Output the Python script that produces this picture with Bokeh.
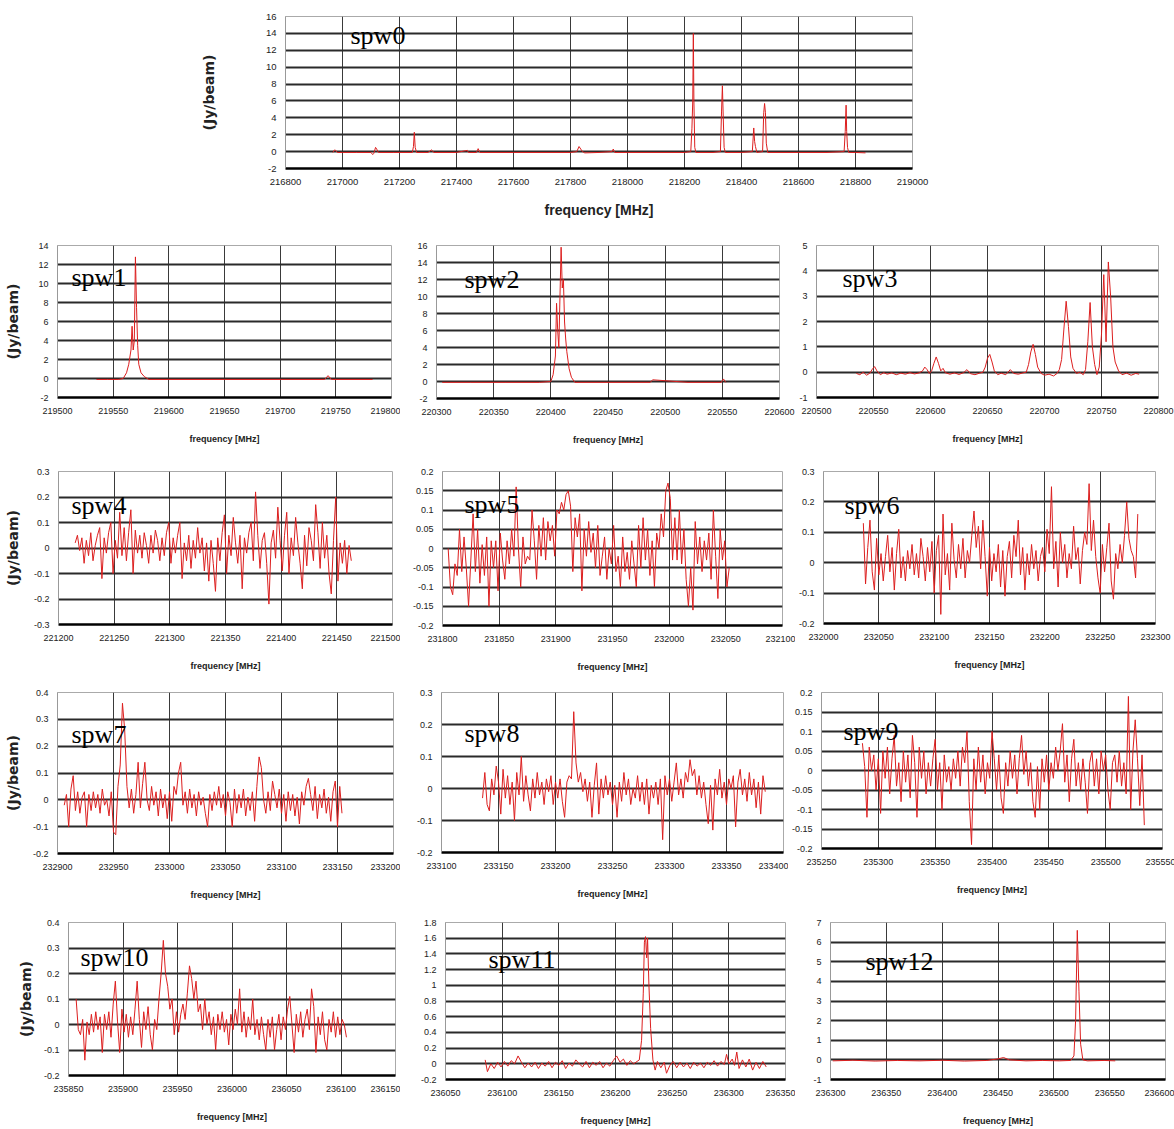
import numpy as np
from bokeh.plotting import figure
from bokeh.layouts import column, row
from bokeh.models import FixedTicker, CustomJSTickFormatter, Label, Range1d
from bokeh.embed import file_html
from bokeh.resources import INLINE

# ---------------- data ----------------
# spw0 : line survey
spw0_freq = [216966, 216972, 216976, 216982, 217000, 217050, 217100, 217106, 217110, 217116,
             217120, 217126, 217180, 217245, 217249, 217252, 217255, 217260, 217300, 217312,
             217316, 217320, 217400, 217438, 217442, 217470, 217476, 217482, 217600, 217700,
             217800, 217822, 217830, 217836, 217842, 217850, 217900, 217946, 217950, 217955,
             218000, 218100, 218200, 218222, 218226, 218229, 218231, 218233, 218236, 218240,
             218300, 218326, 218330, 218333, 218336, 218339, 218343, 218400, 218438, 218443,
             218446, 218449, 218454, 218474, 218478, 218481, 218484, 218487, 218492, 218600,
             218700, 218760, 218764, 218767, 218769, 218772, 218776, 218800, 218835]
spw0_flux = [-0.1, 0.2, 0.15, -0.1, -0.1, -0.1, -0.1, -0.35, -0.2, 0.5,
             0.3, -0.1, -0.1, -0.1, 0.6, 2.3, 0.5, -0.1, -0.1, 0.2,
             0.1, -0.1, -0.1, 0.15, -0.1, -0.1, 0.35, -0.1, -0.1, -0.1,
             -0.1, 0.0, 0.6, 0.3, 0.0, -0.15, -0.1, 0.0, 0.3, -0.1,
             -0.1, -0.1, -0.1, 0.0, 2.7, 6.0, 14.0, 6.0, 0.5, -0.1,
             -0.1, 0.0, 4.8, 7.8, 4.0, 0.5, -0.1, -0.1, 0.0, 2.8,
             1.2, 0.6, -0.1, 0.0, 4.6, 5.7, 4.6, 1.0, -0.1, -0.1,
             -0.1, 0.0, 2.4, 5.5, 2.4, 0.5, -0.1, -0.1, -0.15]

spw1_freq = [219535, 219545, 219555, 219559, 219562, 219564, 219566, 219567, 219568, 219569,
             219570, 219571, 219572, 219573, 219575, 219578, 219582, 219600, 219650, 219700,
             219740, 219743, 219746, 219783]
spw1_flux = [-0.1, -0.1, -0.1, 0.0, 0.6, 1.5, 3.0, 5.5, 3.0, 4.0,
             12.8, 7.5, 3.5, 1.5, 0.6, 0.2, -0.1, -0.1, -0.1, -0.1,
             -0.1, 0.3, -0.1, -0.1]

spw2_freq = [220305, 220330, 220360, 220390, 220400, 220402, 220404, 220405, 220406, 220407,
             220408, 220409, 220410, 220411, 220412, 220413, 220414, 220416, 220418, 220421,
             220450, 220487, 220489, 220520, 220549, 220551, 220553]
spw2_flux = [-0.1, -0.1, -0.1, -0.1, 0.0, 0.8, 3.0, 9.2, 6.0, 4.0,
             10.0, 15.8, 11.0, 12.0, 7.0, 5.0, 3.5, 1.5, 0.5, -0.1,
             -0.1, -0.1, 0.2, -0.1, -0.1, 0.3, -0.1]

spw3_freq = [220535, 220538, 220541, 220544, 220547, 220549, 220551, 220553, 220556, 220559,
             220562, 220566, 220570, 220574, 220578, 220582, 220586, 220590, 220593, 220595,
             220597, 220599, 220601, 220603, 220605, 220607, 220609, 220611, 220613, 220617,
             220621, 220625, 220629, 220632, 220635, 220639, 220643, 220646, 220648, 220650,
             220652, 220654, 220656, 220659, 220662, 220666, 220670, 220673, 220677, 220681,
             220684, 220686, 220688, 220690, 220692, 220694, 220697, 220700, 220704, 220708,
             220711, 220713, 220715, 220717, 220719, 220721, 220723, 220725, 220728, 220731,
             220734, 220736, 220738, 220740, 220742, 220744, 220746, 220748, 220750, 220752,
             220754, 220756, 220758, 220760, 220762, 220765, 220768, 220772, 220776, 220780,
             220783]
spw3_flux = [-0.05, -0.1, 0.0, -0.12, -0.03, 0.12, 0.22, 0.05, -0.1, -0.02,
             -0.08, -0.03, -0.1, -0.04, -0.08, -0.02, -0.07, -0.03, 0.05, 0.2,
             0.1, -0.05, 0.05, 0.35, 0.6, 0.35, 0.05, 0.15, -0.02, -0.08,
             -0.03, -0.09, -0.02, 0.1, -0.06, -0.1, -0.04, 0.0, 0.2, 0.55,
             0.7, 0.4, 0.05, -0.1, -0.04, -0.1, 0.1, -0.05, -0.08, -0.03,
             0.0, 0.3, 0.8, 1.1, 0.7, 0.2, -0.05, -0.12, -0.08, -0.15,
             -0.05, 0.1, 0.5, 1.7, 2.8, 1.8, 0.6, 0.15, -0.05, 0.0,
             -0.1, 0.1, 1.2, 2.75, 1.0, 0.3, -0.1, 0.2, 1.5, 3.85,
             1.2, 4.35, 3.0, 1.0, 0.4, 0.05, -0.1, -0.04, -0.12, -0.05,
             -0.08]

# noisy windows: first channel [MHz], channel step [MHz], flux per channel
spw4_start, spw4_step = 221215, 2
spw4_flux = [0.02, 0.05, -0.01, 0.04, -0.06, 0.03, -0.03, 0.06, -0.05, 0.01,
             0.05, 0.08, -0.12, 0.04, -0.02, 0.06, 0.1, -0.1, 0.03, -0.04,
             0.14, -0.03, 0.08, -0.05, 0.06, 0.15, -0.1, 0.07, -0.02, 0.05,
             -0.04, 0.06, 0.01, -0.06, 0.05, -0.02, 0.07, 0.03, -0.05, 0.04,
             -0.03, 0.06, 0.1, -0.06, 0.04, -0.02, 0.05, 0.1, -0.12, 0.02,
             -0.05, 0.05, -0.08, 0.03, -0.04, 0.08, -0.02, 0.04, -0.09, 0.02,
             -0.13, 0.03, -0.06, -0.17, 0.04, -0.05, 0.06, 0.13, -0.1, 0.05,
             -0.03, 0.12, 0.02, -0.06, 0.05, -0.16, 0.04, -0.02, 0.06, 0.1,
             -0.05, 0.22, 0.05, -0.08, 0.03, 0.06, -0.06, -0.22, 0.02, 0.07,
             -0.04, 0.16, 0.03, -0.09, 0.05, 0.14, -0.1, 0.04, -0.03, 0.12,
             0.02, -0.06, -0.16, 0.05, -0.07, 0.08, 0.03, -0.05, 0.17, 0.06,
             -0.08, 0.1, -0.04, 0.05, -0.1, -0.18, 0.03, 0.2, -0.13, 0.02,
             -0.06, 0.03, -0.1, 0.01, -0.05]

spw5_start, spw5_step = 231805, 2
spw5_flux = [0.0, -0.1, -0.12, -0.04, -0.07, 0.05, -0.06, 0.03, -0.05, -0.15,
             -0.03, 0.09, -0.06, 0.05, -0.09, 0.01, -0.07, 0.03, -0.15, 0.02,
             -0.05, 0.02, -0.11, 0.04, -0.03, -0.08, 0.02, -0.04, 0.05, -0.02,
             0.16, 0.0, -0.1, 0.03, -0.04, -0.02, -0.03, 0.1, 0.02, -0.08,
             0.06, -0.02, 0.08, -0.03, 0.07, 0.02, 0.06, -0.02, 0.1, 0.09,
             0.12, 0.1, 0.14, 0.15, 0.11, -0.06, 0.08, 0.03, 0.09, -0.11,
             0.05, -0.02, 0.07, -0.01, 0.04, -0.05, 0.06, -0.07, -0.02, 0.03,
             -0.08, 0.0, -0.04, 0.06, -0.06, -0.02, -0.1, 0.03, -0.06, -0.01,
             -0.08, 0.02, -0.04, -0.1, 0.06, -0.05, 0.08, -0.03, 0.05, -0.07,
             0.02, -0.1, 0.04, 0.0, 0.09, 0.03, 0.15, 0.17, 0.13, -0.03,
             0.08, -0.03, 0.1, -0.04, 0.05, -0.08, -0.15, -0.05, -0.16, 0.07,
             -0.04, 0.03, -0.06, 0.02, -0.03, 0.04, -0.08, 0.1, -0.02, -0.13,
             0.05, -0.03, 0.02, -0.1, -0.05]

spw6_start, spw6_step = 232036, 2
spw6_flux = [0.13, -0.07, 0.05, 0.14, -0.03, -0.09, 0.08, -0.04, 0.03, -0.06,
             0.02, 0.09, -0.03, 0.05, -0.09, 0.03, 0.11, -0.05, 0.02, -0.06,
             0.04, -0.02, 0.06, -0.04, 0.03, -0.05, 0.08, 0.02, -0.06, 0.05,
             -0.03, 0.07, -0.1, 0.04, 0.09, -0.17, 0.16, -0.04, 0.03, -0.09,
             0.13, 0.01, -0.05, 0.06, -0.02, 0.08, -0.05, 0.04, 0.0, 0.09,
             0.17, 0.05, 0.12, -0.02, 0.14, 0.02, -0.11, 0.05, -0.06, 0.03,
             -0.03, 0.06, -0.08, 0.04, -0.11, 0.02, 0.07, -0.05, 0.09, 0.02,
             0.14, -0.04, 0.05, -0.09, 0.03, -0.04, 0.06, -0.02, 0.04, -0.06,
             0.02, 0.05, -0.03, 0.11, 0.03, 0.25, -0.02, 0.07, -0.08, 0.1,
             0.0, 0.06, -0.05, 0.03, -0.02, 0.12, 0.01, 0.05, -0.07, 0.04,
             0.1, 0.06, 0.26, 0.04, 0.14, 0.02, -0.05, -0.1, 0.06, -0.03,
             0.05, 0.13, -0.06, -0.12, 0.03, -0.02, 0.06, 0.0, 0.09, 0.2,
             0.08, 0.04, 0.02, -0.05, 0.16]

spw7_start, spw7_step = 232906, 2
spw7_flux = [-0.02, 0.02, -0.1, 0.04, 0.09, -0.04, 0.03, -0.05, 0.01, 0.03,
             -0.1, 0.02, -0.04, 0.03, -0.03, 0.02, -0.05, 0.04, -0.02, 0.0,
             -0.06, 0.03, -0.12, -0.13, 0.05, 0.13, 0.36, 0.26, 0.05, -0.03,
             0.04, -0.05, 0.02, 0.14, -0.03, 0.06, 0.14, 0.0, -0.04, 0.05,
             -0.02, 0.03, -0.06, 0.04, -0.03, 0.02, -0.07, 0.03, -0.08, 0.05,
             0.02, 0.1, 0.14, -0.02, 0.03, -0.05, 0.04, -0.03, 0.02, -0.06,
             0.03, -0.02, 0.01, -0.05, -0.1, 0.02, -0.04, 0.03, -0.02, 0.05,
             -0.03, 0.02, -0.06, 0.03, -0.01, -0.1, 0.04, -0.05, 0.02, -0.03,
             0.04, -0.06, 0.01, -0.04, 0.03, -0.08, 0.05, 0.16, 0.12, 0.0,
             -0.05, 0.03, -0.04, 0.07, 0.02, -0.03, 0.04, -0.05, 0.02, -0.08,
             0.03, -0.04, 0.02, -0.06, 0.01, -0.09, 0.03, -0.02, 0.05, 0.08,
             0.02, -0.04, 0.05, -0.07, 0.02, -0.03, 0.04, -0.05, 0.01, -0.08,
             0.03, 0.07, -0.1, 0.05, -0.05]

spw8_start, spw8_step = 233136, 2
spw8_flux = [-0.03, 0.05, -0.05, -0.07, 0.03, -0.02, 0.07, 0.02, -0.08, 0.06,
             -0.03, 0.04, -0.05, 0.02, -0.1, 0.05, -0.02, 0.1, -0.04, 0.04,
             -0.02, -0.07, 0.03, -0.03, 0.05, -0.02, 0.02, -0.05, 0.03, -0.01,
             0.04, -0.05, 0.02, -0.03, 0.03, -0.04, -0.09, 0.02, 0.04, 0.03,
             0.24, 0.08, 0.02, 0.05, -0.01, 0.03, -0.04, 0.02, -0.09, 0.01,
             0.08, -0.08, 0.03, -0.03, 0.04, -0.02, 0.02, -0.05, 0.01, -0.09,
             0.02, -0.04, 0.05, -0.02, 0.03, -0.05, 0.0, -0.03, 0.04, -0.04,
             0.02, -0.05, 0.03, -0.08, 0.01, -0.03, 0.02, -0.05, 0.03, -0.16,
             0.04, -0.02, 0.03, -0.04, 0.02, 0.08, -0.02, 0.03, -0.03, 0.05,
             0.02, 0.09, 0.04, 0.06, -0.02, 0.04, -0.03, 0.02, -0.05, -0.11,
             0.01, -0.13, 0.03, -0.02, 0.06, -0.03, 0.02, -0.05, 0.03, 0.0,
             0.04, -0.12, 0.02, 0.06, -0.02, 0.03, -0.04, 0.05, -0.02, 0.03,
             -0.06, 0.02, -0.08, 0.04, -0.01]

spw9_start, spw9_step = 235286, 2
spw9_flux = [0.07, 0.01, -0.12, 0.06, 0.0, 0.04, -0.05, 0.03, -0.11, 0.05,
             -0.02, 0.06, -0.06, 0.03, 0.09, -0.04, 0.02, -0.08, 0.05, -0.03,
             0.04, -0.07, 0.09, 0.02, -0.12, 0.06, -0.02, 0.05, -0.06, 0.02,
             -0.04, 0.03, 0.08, -0.05, 0.02, -0.1, 0.04, -0.03, 0.01, -0.05,
             0.03, -0.02, 0.05, -0.04, 0.06, 0.02, 0.1, -0.08, -0.19, 0.03,
             -0.05, 0.06, -0.03, 0.04, -0.06, 0.02, -0.02, 0.1, 0.03, -0.05,
             0.04, -0.07, -0.11, 0.02, -0.04, 0.05, -0.02, 0.04, -0.06, 0.03,
             0.09, -0.01, 0.05, -0.04, 0.02, -0.08, -0.12, 0.01, -0.1, 0.03,
             -0.03, 0.04, -0.05, 0.02, -0.02, 0.06, 0.0, 0.05, 0.12, -0.03,
             0.04, -0.08, 0.03, 0.08, -0.04, 0.02, -0.05, 0.03, -0.03, -0.11,
             0.02, 0.05, -0.04, 0.03, -0.06, 0.05, 0.0, 0.04, -0.05, -0.1,
             0.02, 0.04, -0.03, 0.05, -0.04, 0.02, -0.06, 0.19, -0.1, 0.05,
             0.13, 0.03, -0.09, 0.04, -0.14]

spw10_start, spw10_step = 235857, 2
spw10_flux = [0.1, -0.02, -0.04, 0.02, -0.14, 0.01, -0.04, 0.04, -0.03, 0.05,
              -0.02, 0.03, -0.11, 0.04, -0.02, 0.05, -0.05, 0.08, 0.17, 0.01,
              -0.11, 0.06, -0.03, 0.04, -0.05, 0.03, -0.04, 0.06, 0.17, 0.02,
              -0.09, 0.05, -0.02, 0.07, -0.04, -0.1, 0.02, -0.02, 0.1, 0.2,
              0.33, 0.2, 0.15, 0.06, 0.1, -0.04, 0.05, -0.03, 0.04, 0.08,
              0.02, 0.12, 0.23, 0.18, 0.1, 0.17, 0.05, 0.08, -0.02, 0.1,
              0.0, 0.05, -0.04, 0.03, -0.1, 0.04, -0.02, 0.05, -0.03, 0.02,
              -0.08, 0.04, -0.02, 0.06, 0.0, 0.14, -0.03, 0.05, -0.05, 0.03,
              -0.02, 0.1, -0.04, 0.02, -0.06, 0.03, -0.04, -0.1, 0.02, -0.05,
              0.03, -0.1, -0.02, 0.04, -0.06, 0.03, -0.02, 0.06, 0.11, 0.0,
              -0.11, 0.04, -0.03, 0.05, -0.05, 0.02, 0.06, -0.02, 0.14, 0.07,
              -0.11, 0.03, -0.04, 0.05, -0.06, -0.1, 0.02, -0.03, 0.05, -0.05,
              0.03, -0.04, 0.02, 0.0, -0.05]

spw11_freq = [236085, 236087, 236090, 236093, 236096, 236099, 236102, 236105, 236108, 236111,
              236114, 236117, 236120, 236123, 236126, 236129, 236132, 236135, 236138, 236141,
              236144, 236147, 236150, 236153, 236156, 236159, 236162, 236165, 236168, 236171,
              236174, 236177, 236180, 236183, 236186, 236189, 236192, 236195, 236198, 236201,
              236204, 236207, 236210, 236213, 236216, 236219, 236221, 236223, 236224.5, 236225.5,
              236226.5, 236227.5, 236228.3, 236229.5, 236231, 236233, 236235, 236237, 236240, 236243,
              236245, 236248, 236251, 236254, 236257, 236260, 236263, 236266, 236269, 236272,
              236275, 236278, 236281, 236284, 236287, 236290, 236293, 236296, 236298, 236300,
              236303, 236305, 236307, 236309, 236312, 236315, 236318, 236321, 236324, 236327,
              236330, 236333]
spw11_flux = [0.05, -0.1, 0.0, -0.06, 0.02, -0.04, 0.03, -0.03, 0.04, 0.0,
              0.1, 0.02, -0.05, 0.01, -0.04, 0.02, -0.06, 0.01, -0.03, 0.03,
              -0.05, 0.02, -0.02, 0.04, -0.06, 0.01, -0.03, 0.05, 0.0, -0.04,
              0.03, -0.05, 0.02, -0.02, 0.03, -0.05, 0.01, -0.03, 0.04, 0.1,
              0.02, 0.06, -0.02, 0.04, 0.0, 0.03, 0.05, 0.3, 0.9, 1.55,
              1.62, 1.35, 1.6, 1.0, 0.45, 0.05, -0.08, 0.03, -0.05, 0.02,
              -0.12, -0.02, 0.03, -0.05, 0.02, -0.04, 0.01, -0.06, 0.02, -0.03,
              0.01, -0.05, 0.02, -0.02, 0.04, -0.03, 0.03, -0.01, 0.12, 0.0,
              0.06, -0.02, 0.15, -0.06, 0.05, -0.04, 0.06, -0.08, 0.02, -0.06,
              0.03, -0.04]

spw12_freq = [236302, 236320, 236340, 236360, 236380, 236400, 236420, 236440, 236450, 236455,
              236460, 236475, 236490, 236505, 236515, 236518, 236519.5, 236521, 236522.5, 236524,
              236526, 236530, 236545, 236555]
spw12_flux = [-0.05, -0.02, -0.06, -0.03, -0.05, -0.02, -0.06, -0.03, 0.05, 0.12,
              0.0, -0.05, -0.03, -0.05, -0.03, 0.2, 2.0, 6.6, 3.5, 0.8,
              0.0, -0.05, -0.03, -0.05]

# axis ranges / tick steps per window
names = ["spw0", "spw1", "spw2", "spw3", "spw4", "spw5", "spw6",
         "spw7", "spw8", "spw9", "spw10", "spw11", "spw12"]
x_ranges = [(216800, 219000, 200), (219500, 219800, 50), (220300, 220600, 50),
            (220500, 220800, 50), (221200, 221500, 50), (231800, 232100, 50),
            (232000, 232300, 50), (232900, 233200, 50), (233100, 233400, 50),
            (235250, 235550, 50), (235850, 236150, 50), (236050, 236350, 50),
            (236300, 236600, 50)]
y_ranges = [(-2, 16, 2), (-2, 14, 2), (-2, 16, 2), (-1, 5, 1), (-0.3, 0.3, 0.1),
            (-0.2, 0.2, 0.05), (-0.2, 0.3, 0.1), (-0.2, 0.4, 0.1), (-0.2, 0.3, 0.1),
            (-0.2, 0.2, 0.05), (-0.2, 0.4, 0.1), (-0.2, 1.8, 0.2), (-1, 7, 1)]


def channels(start, step, vals):
    return list(start + step * np.arange(len(vals)))


series = [
    (spw0_freq, spw0_flux), (spw1_freq, spw1_flux), (spw2_freq, spw2_flux),
    (spw3_freq, spw3_flux),
    (channels(spw4_start, spw4_step, spw4_flux), spw4_flux),
    (channels(spw5_start, spw5_step, spw5_flux), spw5_flux),
    (channels(spw6_start, spw6_step, spw6_flux), spw6_flux),
    (channels(spw7_start, spw7_step, spw7_flux), spw7_flux),
    (channels(spw8_start, spw8_step, spw8_flux), spw8_flux),
    (channels(spw9_start, spw9_step, spw9_flux), spw9_flux),
    (channels(spw10_start, spw10_step, spw10_flux), spw10_flux),
    (spw11_freq, spw11_flux), (spw12_freq, spw12_flux),
]

# ---------------- layout / style ----------------
# (left, frame_w, right, top, frame_h, bottom)
geom = [
    (285, 627, 262, 16, 152, 56),
    (57, 334, 9, 21, 152, 51), (36, 343, 16, 19, 153, 52), (21, 342, 16, 20, 152, 52),
    (58, 334, 8, 22, 153, 57), (42, 340, 13, 23, 154, 55), (24, 332, 23, 22, 152, 58),
    (57, 336, 7, 9, 161, 55), (41, 342, 5, 10, 160, 55), (32, 341, 13, 12, 156, 57),
    (68, 327, 5, 17, 153, 54), (45, 340, 10, 15, 157, 52), (35, 335, 9, 13, 157, 54),
]
label_pos = [(65, 19), (14, 32), (28, 34), (26, 33), (13, 34), (22, 33), (21, 34),
             (14, 42), (23, 41), (22, 39), (12, 35), (43, 37), (35, 39)]
ylabel_standoff = {0: 46, 1: 14, 4: 10, 7: 9, 10: 7}

RED = "#dc1f1f"
SANS = "Liberation Sans"
FMT = "return (Math.round(tick*1000)/1000).toString();"


def make_panel(i):
    left, fw, right, top, fh, bottom = geom[i]
    x0, x1, xs = x_ranges[i]
    y0, y1, ys = y_ranges[i]
    big = i == 0
    p = figure(frame_width=fw, frame_height=fh,
               min_border_left=left, min_border_right=right,
               min_border_top=top, min_border_bottom=bottom,
               x_range=Range1d(x0, x1), y_range=Range1d(y0, y1),
               output_backend="svg", toolbar_location=None)
    f, s = series[i]
    p.line(f, s, color=RED, line_width=1)

    xt = [round(v, 4) for v in np.arange(x0, x1 + xs / 2, xs)]
    yt = [round(v, 4) for v in np.arange(y0, y1 + ys / 2, ys)]
    p.xaxis.ticker = FixedTicker(ticks=xt)
    p.yaxis.ticker = FixedTicker(ticks=yt)
    for ax in (p.xaxis[0], p.yaxis[0]):
        ax.major_tick_line_color = None
        ax.minor_tick_line_color = None
        ax.major_label_text_font = SANS
        ax.major_label_text_font_size = "9.5px" if big else "9px"
        ax.major_label_text_color = "#222222"
        ax.major_label_standoff = 4
        ax.formatter = CustomJSTickFormatter(code=FMT)
    p.yaxis.major_label_standoff = 3
    p.xaxis.axis_line_color = "black"
    p.xaxis.axis_line_width = 2.5
    p.yaxis.axis_line_color = "#999999"
    p.yaxis.axis_line_width = 1

    p.xaxis.axis_label = "frequency [MHz]"
    p.xaxis.axis_label_text_font = SANS
    p.xaxis.axis_label_text_font_style = "bold"
    p.xaxis.axis_label_text_font_size = "14px" if big else "9px"
    p.xaxis.axis_label_text_color = "#222222"
    p.xaxis.axis_label_standoff = 14 if big else 17

    if i in ylabel_standoff:
        p.yaxis.axis_label = "(Jy/beam)"
        p.yaxis.axis_label_text_font = "DejaVu Sans"
        p.yaxis.axis_label_text_font_style = "bold"
        p.yaxis.axis_label_text_font_size = "14px"
        p.yaxis.axis_label_text_color = "#222222"
        p.yaxis.axis_label_standoff = ylabel_standoff[i]

    p.ygrid.grid_line_color = "#2a2a2a"
    p.ygrid.grid_line_width = 1.8
    p.xgrid.grid_line_color = "#3a3a3a"
    p.xgrid.grid_line_width = 1
    p.outline_line_color = "#aaaaaa"
    p.outline_line_width = 1

    dx, dy = label_pos[i]
    p.add_layout(Label(x=dx, y=fh - dy, x_units="screen", y_units="screen",
                       text=names[i], text_font="Liberation Serif",
                       text_font_size="26px", text_baseline="middle",
                       text_color="black"))
    return p


panels = [make_panel(i) for i in range(13)]
layout = column(
    row(panels[0]),
    row(panels[1], panels[2], panels[3]),
    row(panels[4], panels[5], panels[6]),
    row(panels[7], panels[8], panels[9]),
    row(panels[10], panels[11], panels[12]),
    spacing=0,
)

open("out.html", "w").write(file_html(layout, INLINE))
